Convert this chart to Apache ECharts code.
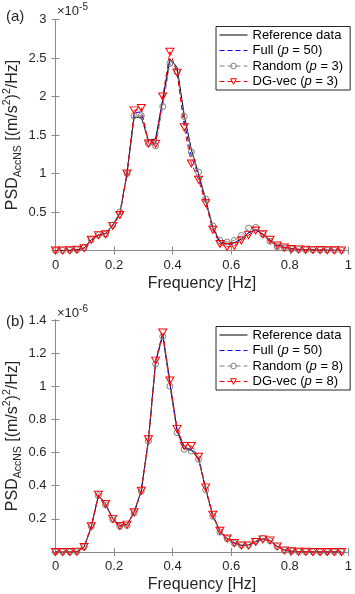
<!DOCTYPE html>
<html>
<head>
<meta charset="utf-8">
<script src="https://cdn.jsdelivr.net/npm/echarts@6/dist/echarts.min.js"></script>
<style>
html, body { margin: 0; padding: 0; background: #fff; }
#chart { width: 355px; height: 594px; }
</style>
</head>
<body>
<div id="chart"></div>
<script>
// frequency bins [Hz]
const freq = [0, 0.02441, 0.04883, 0.07324, 0.09766, 0.12207, 0.14648, 0.1709, 0.19531, 0.21973,
  0.24414, 0.26855, 0.29297, 0.31738, 0.3418, 0.36621, 0.39063, 0.41504, 0.43945, 0.46387,
  0.48828, 0.5127, 0.53711, 0.56152, 0.58594, 0.61035, 0.63477, 0.65918, 0.68359, 0.70801,
  0.73242, 0.75684, 0.78125, 0.80566, 0.83008, 0.85449, 0.87891, 0.90332, 0.92773, 0.95215, 0.97656]

// panel (a), x 1e-5
const refA = [0, 0, 0.003, 0.01, 0.03, 0.14, 0.2, 0.22, 0.33, 0.48,
  1.0, 1.73, 1.73, 1.43, 1.45, 1.95, 2.49, 2.38, 1.76, 1.31,
  1.0, 0.66, 0.3, 0.11, 0.09, 0.1, 0.15, 0.23, 0.27, 0.21,
  0.13, 0.07, 0.04, 0.025, 0.015, 0.01, 0.008, 0.006, 0.004, 0.003, 0.002]
const fullA = [0, 0, 0.003, 0.01, 0.03, 0.14, 0.2, 0.22, 0.33, 0.47,
  1.0, 1.79, 1.8, 1.4, 1.41, 1.97, 2.48, 2.35, 1.68, 1.22,
  0.97, 0.64, 0.29, 0.1, 0.075, 0.085, 0.15, 0.23, 0.27, 0.21,
  0.13, 0.065, 0.04, 0.025, 0.015, 0.01, 0.008, 0.006, 0.004, 0.003, 0.002]
const randA = [0, 0, 0.003, 0.01, 0.035, 0.14, 0.2, 0.21, 0.33, 0.5,
  1.0, 1.75, 1.75, 1.39, 1.36, 1.87, 2.43, 2.32, 1.74, 1.28,
  1.02, 0.67, 0.32, 0.13, 0.11, 0.13, 0.195, 0.29, 0.3, 0.21,
  0.12, 0.05, 0.03, 0.02, 0.012, 0.008, 0.006, 0.005, 0.004, 0.003, 0.002]
const dgA = [0, 0, 0.003, 0.01, 0.03, 0.14, 0.2, 0.21, 0.32, 0.46,
  1.0, 1.82, 1.85, 1.39, 1.385, 2.0, 2.58, 2.31, 1.6, 1.13,
  0.92, 0.615, 0.27, 0.085, 0.045, 0.06, 0.13, 0.2, 0.26, 0.21,
  0.14, 0.065, 0.04, 0.02, 0.015, 0.01, 0.008, 0.006, 0.004, 0.003, 0.002]

// panel (b), x 1e-6
const refB = [0, 0, 0, 0.002, 0.03, 0.15, 0.34, 0.29, 0.2, 0.16,
  0.165, 0.24, 0.37, 0.675, 1.145, 1.31, 1.015, 0.73, 0.625, 0.615,
  0.565, 0.38, 0.22, 0.125, 0.08, 0.055, 0.04, 0.042, 0.063, 0.08,
  0.068, 0.035, 0.012, 0.005, 0.002, 0.001, 0, 0, 0, 0, 0]
const fullB = [0, 0, 0, 0.002, 0.03, 0.15, 0.34, 0.29, 0.2, 0.16,
  0.165, 0.24, 0.37, 0.675, 1.15, 1.315, 1.02, 0.74, 0.63, 0.62,
  0.565, 0.38, 0.22, 0.125, 0.08, 0.055, 0.04, 0.042, 0.063, 0.078,
  0.068, 0.035, 0.012, 0.005, 0.002, 0.001, 0, 0, 0, 0, 0]
const randB = [0, 0, 0, 0.002, 0.03, 0.155, 0.34, 0.285, 0.195, 0.155,
  0.16, 0.235, 0.365, 0.67, 1.135, 1.3, 1.0, 0.72, 0.62, 0.61,
  0.56, 0.375, 0.215, 0.12, 0.08, 0.053, 0.04, 0.04, 0.065, 0.082,
  0.068, 0.033, 0.01, 0.005, 0.002, 0.001, 0, 0, 0, 0, 0]
const dgB = [0, 0, 0, 0.002, 0.03, 0.155, 0.345, 0.29, 0.2, 0.157,
  0.165, 0.24, 0.37, 0.68, 1.155, 1.325, 1.035, 0.743, 0.64, 0.64,
  0.575, 0.39, 0.225, 0.128, 0.082, 0.054, 0.04, 0.04, 0.06, 0.076,
  0.07, 0.034, 0.01, 0.005, 0.002, 0.001, 0, 0, 0, 0, 0]

const namesA = ['Reference data', 'Full (p = 50)', 'Random (p = 3)', 'DG-vec (p = 3)']
const namesB = ['Reference data', 'Full (p = 50)', 'Random (p = 8)', 'DG-vec (p = 8)']

const font = '"Liberation Sans", Arial, sans-serif'
const textColor = '#262626'
const axisColor = '#8a8a8a'
const clear = 'rgba(255,255,255,0)'
const kindColors = ['#000000', '#0000ff', '#808080', '#ff0000']

function pairs(vals) {
  return vals.map((v, i) => [freq[i], v])
}

function lineSeries(name, vals, kind, idx) {
  const s = {
    name,
    type: 'line',
    xAxisIndex: idx * 2,
    yAxisIndex: idx * 2,
    data: pairs(vals),
    symbol: 'none',
    silent: true,
  }
  if (kind === 'ref') {
    s.lineStyle = { color: '#000000', width: 1 }
    s.itemStyle = { color: clear, borderWidth: 0 }
  } else if (kind === 'full') {
    s.lineStyle = { color: '#0000ff', width: 1, type: [5, 3] }
    s.itemStyle = { color: clear, borderWidth: 0 }
  } else if (kind === 'rand') {
    s.symbol = 'circle'
    s.symbolSize = 6
    s.lineStyle = { color: '#808080', width: 1, type: [5, 3] }
    s.itemStyle = { color: clear, borderColor: '#808080', borderWidth: 1 }
  } else {
    s.symbol = 'triangle'
    s.symbolRotate = 180
    s.symbolSize = [8, 7]
    s.lineStyle = { color: '#ff0000', width: 1, type: [5, 3] }
    s.itemStyle = { color: clear, borderColor: '#ff0000', borderWidth: 1 }
  }
  return s
}

function axesFor(idx, ymax, yint) {
  const common = {
    gridIndex: idx,
    axisLine: { lineStyle: { color: axisColor, width: 1 } },
    axisTick: { inside: true, length: 4, lineStyle: { color: axisColor } },
    splitLine: { show: false },
  }
  const x = [
    {
      ...common, type: 'value', min: 0, max: 1, interval: 0.2, position: 'bottom',
      name: 'Frequency [Hz]', nameLocation: 'middle', nameGap: 25,
      nameTextStyle: { color: textColor, fontSize: 16, fontFamily: font },
      axisLabel: { color: textColor, fontSize: 13, fontFamily: font, margin: 8 },
    },
    { ...common, type: 'value', min: 0, max: 1, interval: 0.2, position: 'top', axisLabel: { show: false } },
  ]
  const y = [
    {
      ...common, type: 'value', min: 0, max: ymax, interval: yint, position: 'left',
      axisLabel: {
        color: textColor, fontSize: 13, fontFamily: font, margin: 9,
        formatter: (v) => (v === 0 ? '' : String(+v.toFixed(2))),
      },
    },
    { ...common, type: 'value', min: 0, max: ymax, interval: yint, position: 'right', axisLabel: { show: false } },
  ]
  return { x, y }
}

function legendFor(names, top) {
  return {
    data: names.map((name, i) => ({
      name,
      itemStyle: { color: clear, borderColor: kindColors[i], borderWidth: i < 2 ? 0 : 1 },
    })),
    orient: 'vertical',
    left: 216,
    top,
    padding: [1.5, 7, 1.5, 3],
    itemGap: 1.5,
    itemWidth: 28,
    itemHeight: 7,
    borderColor: '#262626',
    borderWidth: 1,
    backgroundColor: '#ffffff',
    selectedMode: false,
    lineStyle: { width: 1 },
    textStyle: {
      color: '#000', fontSize: 13, fontFamily: font, lineHeight: 14,
      rich: { i: { fontStyle: 'italic', fontSize: 13, fontFamily: font, color: '#000' } },
    },
    formatter: (n) => n.replace(/\(p /, '({i|p} '),
  }
}

function yName(y) {
  return {
    type: 'text',
    x: 13,
    y,
    rotation: Math.PI / 2,
    style: {
      text: 'PSD{sub|AccNS} [(m/s{sup|2}){sup|2}/Hz]',
      fill: textColor,
      font: '16px ' + font,
      lineHeight: 22,
      align: 'center',
      verticalAlign: 'middle',
      rich: {
        sub: { fontSize: 10.5, fontFamily: font, lineHeight: 11, verticalAlign: 'bottom', fill: textColor },
        sup: { fontSize: 10.5, fontFamily: font, lineHeight: 11, verticalAlign: 'top', fill: textColor },
      },
    },
  }
}

function textEl(x, y, text, size) {
  return {
    type: 'text', x, y,
    style: {
      text, fill: textColor, font: size + 'px ' + font, lineHeight: 18,
      align: 'left', verticalAlign: 'middle',
      rich: { sup: { fontSize: 10, fontFamily: font, lineHeight: 10, verticalAlign: 'top', fill: textColor } },
    },
  }
}

function buildOption() {
  const a = axesFor(0, 3, 0.5)
  const b = axesFor(1, 1.4, 0.2)
  return {
    animation: false,
    backgroundColor: '#ffffff',
    grid: [
      { left: 55.5, top: 19.5, width: 298.5, height: 231 },
      { left: 55.5, top: 320, width: 298.5, height: 232.3 },
    ],
    xAxis: [...a.x, ...b.x],
    yAxis: [...a.y, ...b.y],
    legend: [legendFor(namesA, 26.5), legendFor(namesB, 326.5)],
    graphic: [
      yName(135),
      yName(436),
      textEl(6, 17, '(a)', 15),
      textEl(6, 322, '(b)', 15),
      textEl(57, 11, '×10{sup|-5}', 13),
      textEl(57, 313, '×10{sup|-6}', 13),
    ],
    series: [
      lineSeries(namesA[0], refA, 'ref', 0),
      lineSeries(namesA[1], fullA, 'full', 0),
      lineSeries(namesA[2], randA, 'rand', 0),
      lineSeries(namesA[3], dgA, 'dg', 0),
      lineSeries(namesB[0], refB, 'ref', 1),
      lineSeries(namesB[1], fullB, 'full', 1),
      lineSeries(namesB[2], randB, 'rand', 1),
      lineSeries(namesB[3], dgB, 'dg', 1),
    ],
  }
}

const chart = echarts.init(document.getElementById('chart'), undefined, { renderer: 'canvas' })
chart.setOption(buildOption())
</script>
</body>
</html>
